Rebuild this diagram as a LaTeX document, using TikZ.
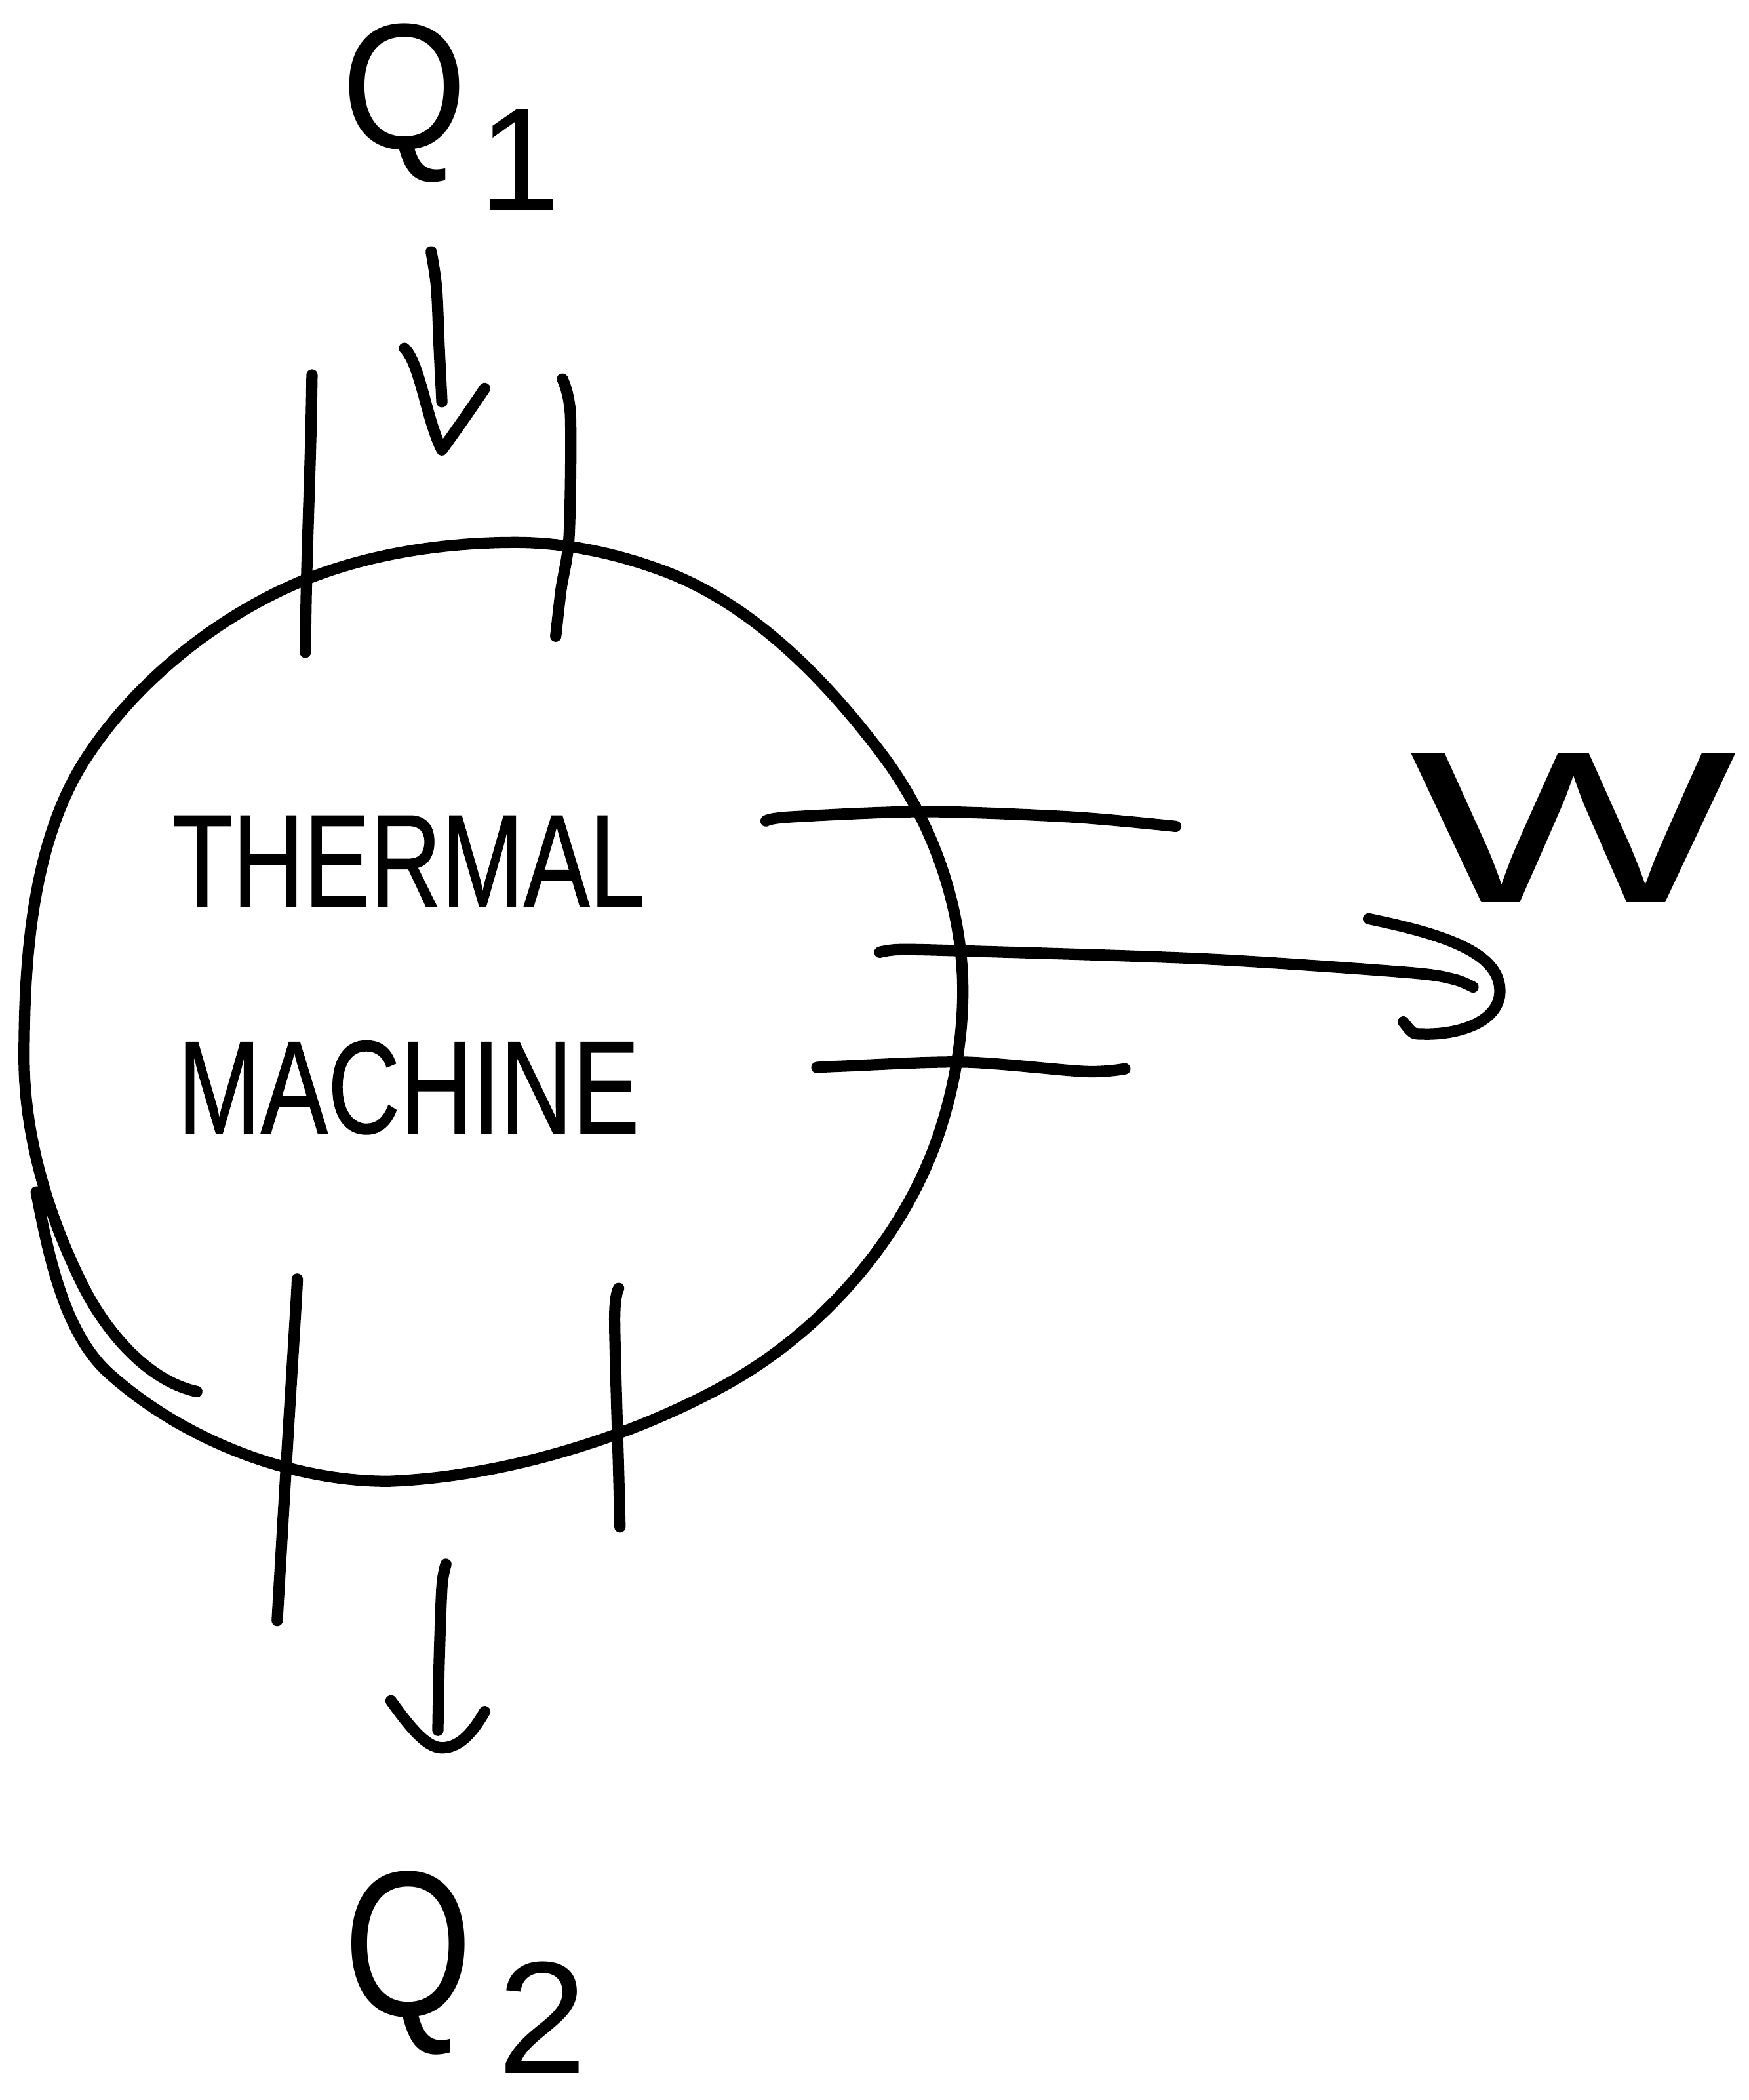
\documentclass[tikz,border=0pt]{standalone}
\usepackage{fontspec}
\setmainfont{Liberation Sans}
\newfontfamily\handfont[FakeBold=0.8]{Liberation Sans}
\begin{document}
\begin{tikzpicture}[x=0.01cm,y=-0.01cm,
  stroke/.style={line width=2.4pt, line cap=round, line join=round},
  lbl/.style={inner sep=0pt, font=\handfont\fontsize{28}{32}\selectfont}]
\useasboundingbox (0,0) rectangle (1306,1568);
\fill[white] (0,0) rectangle (1306,1568);

% thermal machine outline (open stroke, ends overlap at lower left)
\draw[stroke] (27,890) .. controls (36,935) and (47,995) .. (82,1026)
  .. controls (137,1075) and (216,1106) .. (290,1106)
  .. controls (370,1103) and (463,1077) .. (540,1035)
  .. controls (612,996) and (673,927) .. (700,850)
  .. controls (712,815) and (719,777) .. (719,740)
  .. controls (719,678) and (697,615) .. (660,565)
  .. controls (618,509) and (565,454) .. (500,428)
  .. controls (464,414) and (424,405) .. (385,405)
  .. controls (333,405) and (278,413) .. (230,432)
  .. controls (165,458) and (103,507) .. (65,565)
  .. controls (24,627) and (18,715) .. (18,790)
  .. controls (18,848) and (36,908) .. (62,960)
  .. controls (79,994) and (110,1031) .. (147,1039);

% text
\node[lbl, xscale=0.75] (thermal) at (305,643) {THERMAL};
\node[lbl, xscale=0.76] (machine) at (305,812) {MACHINE};

% top walls
\draw[stroke] plot[smooth] coordinates {(233,280) (232,330) (229,430) (228,487)};
\draw[stroke] plot[smooth] coordinates {(420,283) (426,310) (425,400) (419,440) (415,475)};
% bottom walls
\draw[stroke] plot[smooth] coordinates {(222,955) (221,975) (214,1090) (207,1210)};
\draw[stroke] plot[smooth] coordinates {(462,962) (459,985) (462,1100) (463,1140)};

% Q1 and incoming heat arrow
\node[inner sep=0pt, anchor=base, font=\fontsize{38}{40}\selectfont, xscale=0.9] (q1) at (302,111) {Q};
\node[inner sep=0pt, anchor=base, font=\fontsize{31}{33}\selectfont] (q1sub) at (388,157) {1};
\coordinate (q1tail) at (322,188);
\coordinate (q1tip) at (330,336);
\draw[stroke] plot[smooth] coordinates {(q1tail) (326,215) (328,260) (330,300)};
\draw[stroke] (302,260) .. controls (314,272) and (318,312) .. (q1tip)
  .. controls (340,322) and (350,308) .. (362,290);

% Q2 and outgoing heat arrow
\coordinate (q2tail) at (333,1168);
\coordinate (q2tip) at (330,1305);
\draw[stroke] plot[smooth] coordinates {(q2tail) (330,1185) (328,1240) (327,1292)};
\draw[stroke] (292,1270) .. controls (305,1288) and (318,1305) .. (q2tip)
  .. controls (345,1305) and (355,1290) .. (362,1278);
\node[inner sep=0pt, anchor=base, font=\fontsize{44}{46}\selectfont, xscale=0.8] (q2) at (305,1505) {Q};
\node[inner sep=0pt, anchor=base, font=\fontsize{34}{36}\selectfont] (q2sub) at (405,1548) {2};

% right side lines (work output)
\draw[stroke] plot[smooth] coordinates {(572,613) (590,610) (690,606) (800,610) (878,617)};
\coordinate (wstart) at (657,711);
\coordinate (wend) at (1100,737);
\draw[stroke] plot[smooth] coordinates {(wstart) (672,709) (720,710) (900,716) (1050,726) (1085,731) (wend)};
\draw[stroke] plot[smooth] coordinates {(610,797) (630,796) (720,793) (810,800) (840,798)};
% hook arrow
\draw[stroke] (1022,686) .. controls (1080,698) and (1122,712) .. (1120,742)
  .. controls (1118,765) and (1085,773) .. (1062,772)
  .. controls (1055,772) .. (1048,763);

% W label
\node[inner sep=0pt, font=\fontsize{46}{48}\selectfont, xscale=1.6] (w) at (1175,618) {W};
\end{tikzpicture}
\end{document}
